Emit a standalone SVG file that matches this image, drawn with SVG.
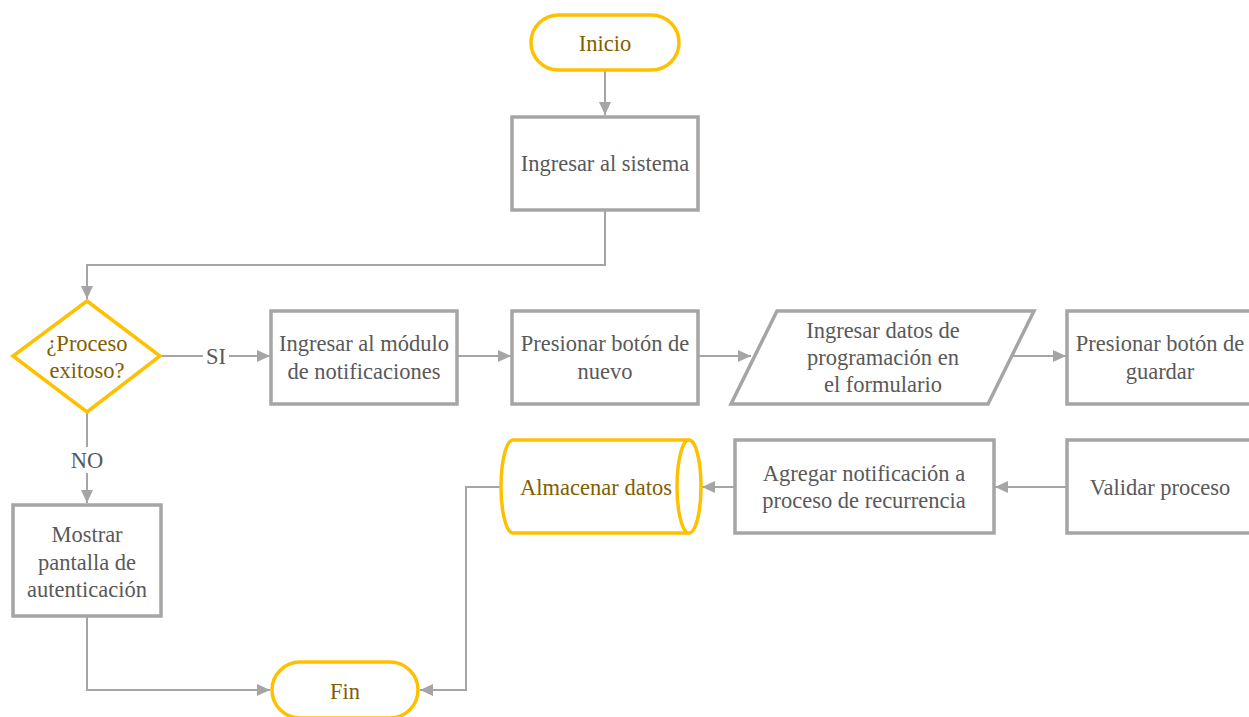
<svg xmlns="http://www.w3.org/2000/svg" width="1249" height="717" viewBox="0 0 1249 717">
<style>
.box{fill:#fff;stroke:#A5A5A5;stroke-width:3.5}
.term{fill:#fff;stroke:#FFC000;stroke-width:3.5}
.t{font-family:"Liberation Serif","Times New Roman",serif;font-size:22.5px;fill:#595959;text-anchor:middle;dominant-baseline:central}
.ty{fill:#7F6000}
.c{fill:none;stroke:#A5A5A5;stroke-width:2}
</style>
<defs>
<marker id="ah" markerUnits="userSpaceOnUse" markerWidth="14" markerHeight="14" refX="13" refY="7" orient="auto">
<path d="M0,1 L13,7 L0,13 Z" fill="#A5A5A5"/>
</marker>
</defs>
<rect width="1249" height="717" fill="#fff"/>
<g id="connectors">
<path class="c" d="M605,71 V115" marker-end="url(#ah)"/>
<path class="c" d="M605,211 V265 H87 V299" marker-end="url(#ah)"/>
<path class="c" d="M161,356 H270" marker-end="url(#ah)"/>
<path class="c" d="M87,413 V503" marker-end="url(#ah)"/>
<path class="c" d="M458,356 H511" marker-end="url(#ah)"/>
<path class="c" d="M699,356 H751" marker-end="url(#ah)"/>
<path class="c" d="M1012,356 H1066" marker-end="url(#ah)"/>
<path class="c" d="M1067,487 H995" marker-end="url(#ah)"/>
<path class="c" d="M735,487 H702" marker-end="url(#ah)"/>
<path class="c" d="M87,617 V690 H270" marker-end="url(#ah)"/>
<path class="c" d="M503,487 H466 V690 H420" marker-end="url(#ah)"/>
<rect x="203" y="344" width="26" height="24" fill="#fff"/>
<text class="t" x="216" y="356">SI</text>
<rect x="68" y="447" width="38" height="26" fill="#fff"/>
<text class="t" x="87" y="460">NO</text>
</g>
<g id="inicio">
<rect class="term" x="531" y="15" width="148" height="55" rx="27.5"/>
<text class="t ty" x="605" y="43">Inicio</text>
</g>
<g id="ingresar-sistema">
<rect class="box" x="512" y="117" width="186" height="93"/>
<text class="t" x="605" y="163">Ingresar al sistema</text>
</g>
<g id="decision">
<polygon class="term" points="87,301 160,356 87,412 13,356"/>
<text class="t ty" x="87" y="343">¿Proceso</text>
<text class="t ty" x="87" y="370">exitoso?</text>
</g>
<g id="modulo">
<rect class="box" x="271" y="311" width="186" height="93"/>
<text class="t" x="364" y="343">Ingresar al módulo</text>
<text class="t" x="364" y="371">de notificaciones</text>
</g>
<g id="nuevo">
<rect class="box" x="512" y="311" width="186" height="93"/>
<text class="t" x="605" y="343">Presionar botón de</text>
<text class="t" x="605" y="371">nuevo</text>
</g>
<g id="datos">
<polygon class="box" points="777,311 1034,311 988,404 731,404"/>
<text class="t" x="883" y="330">Ingresar datos de</text>
<text class="t" x="883" y="357">programación en</text>
<text class="t" x="883" y="384">el formulario</text>
</g>
<g id="guardar">
<rect class="box" x="1067" y="311" width="186" height="93"/>
<text class="t" x="1160" y="343">Presionar botón de</text>
<text class="t" x="1160" y="371">guardar</text>
</g>
<g id="validar">
<rect class="box" x="1067" y="440" width="186" height="93"/>
<text class="t" x="1160" y="487">Validar proceso</text>
</g>
<g id="agregar">
<rect class="box" x="735" y="440" width="259" height="93"/>
<text class="t" x="864" y="473">Agregar notificación a</text>
<text class="t" x="864" y="500">proceso de recurrencia</text>
</g>
<g id="almacenar">
<path class="term" d="M513,440 H689 A12,46.5 0 0 1 689,533 H513 A12,46.5 0 0 1 513,440 Z"/>
<path class="term" d="M689,440 A12,46.5 0 0 0 689,533"/>
<text class="t ty" x="596" y="487">Almacenar datos</text>
</g>
<g id="mostrar">
<rect class="box" x="13" y="505" width="148" height="111"/>
<text class="t" x="87" y="534">Mostrar</text>
<text class="t" x="87" y="562">pantalla de</text>
<text class="t" x="87" y="589">autenticación</text>
</g>
<g id="fin">
<rect class="term" x="272" y="662" width="146" height="56" rx="28"/>
<text class="t ty" x="345" y="691">Fin</text>
</g>
</svg>
